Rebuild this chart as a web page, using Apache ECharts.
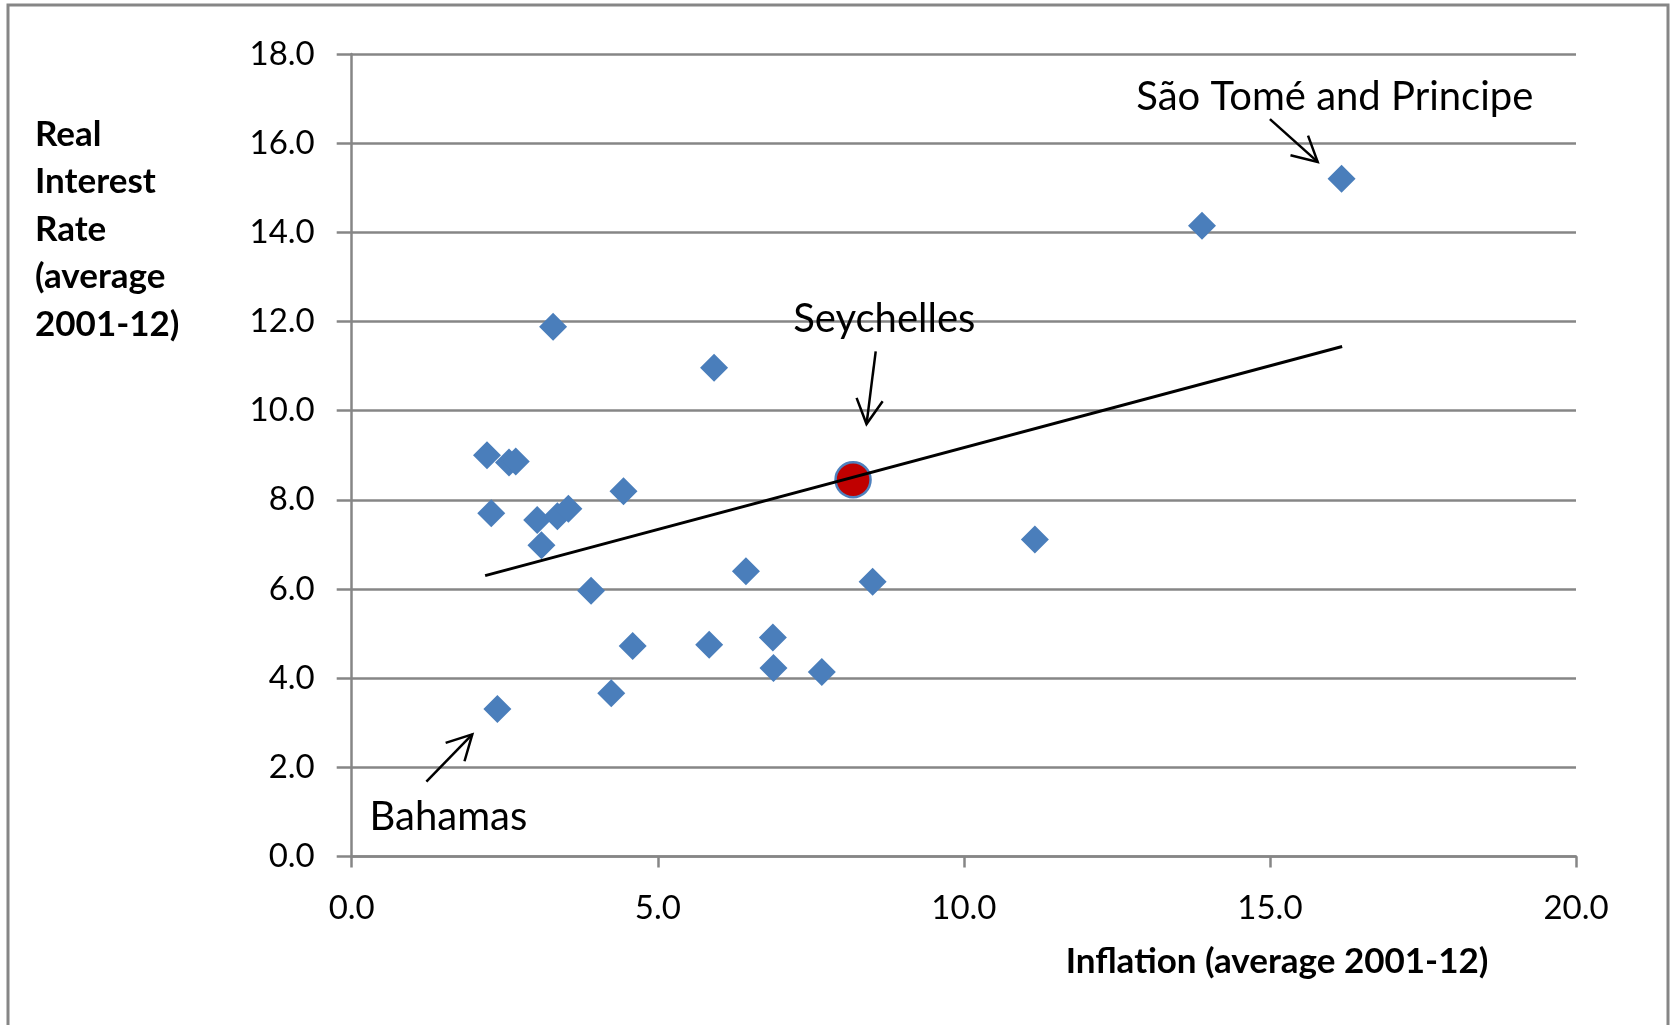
<!DOCTYPE html>
<html>
<head>
<meta charset="utf-8">
<script src="https://cdn.jsdelivr.net/npm/echarts@6/dist/echarts.min.js"></script>
<style>
  html, body { margin: 0; padding: 0; background: #ffffff; }
  #chart { width: 1670px; height: 1025px; }
</style>
</head>
<body>
<div id="chart"></div>
<script>
// Average inflation vs. average real interest rate, 2001-12
const inflation = [2.21, 2.57, 2.68, 4.44, 2.28, 3.03, 3.36, 3.54, 3.10, 6.44, 8.51, 3.91,
                   4.59, 5.84, 6.88, 6.89, 7.68, 4.24, 2.38, 3.29, 5.92, 13.89, 16.17, 11.16];
const realRate  = [9.00, 8.84, 8.86, 8.19, 7.70, 7.55, 7.63, 7.80, 6.98, 6.40, 6.16, 5.96,
                   4.72, 4.75, 4.91, 4.23, 4.14, 3.66, 3.31, 11.88, 10.96, 14.15, 15.20, 7.11];

// Highlighted country
const seychelles = [8.19, 8.45];

// Linear trend end points
const trendInflation = [2.18, 16.18];
const trendRate = [6.30, 11.44];

// Axis ranges
const xRange = [0, 20, 5];
const yRange = [0, 18, 2];

// Country call-outs (data units)
const noteLabels = ['São Tomé and Principe', 'Seychelles', 'Bahamas'];
const noteTextAt = [[16.06, 17.04], [8.70, 12.05], [1.58, 0.89]];
const noteArrowFrom = [[15.00, 16.54], [8.56, 11.33], [1.22, 1.68]];
const noteArrowTo = [[15.78, 15.58], [8.41, 9.70], [1.97, 2.74]];

const FONT = 'Lato, "Open Sans", sans-serif';
const GRID_GRAY = '#868686';

const chart = echarts.init(document.getElementById('chart'), null, { renderer: 'canvas' });

const points = inflation.map((x, i) => [x, realRate[i]]);
const trend = trendInflation.map((x, i) => [x, trendRate[i]]);

chart.setOption({
  animation: false,
  backgroundColor: '#ffffff',
  grid: { left: 351.7, right: 94, top: 54, bottom: 168.5, containLabel: false },
  xAxis: {
    type: 'value',
    min: xRange[0], max: xRange[1], interval: xRange[2],
    axisLine: { show: true, lineStyle: { color: GRID_GRAY, width: 2.5 } },
    axisTick: { show: true, length: 11, lineStyle: { color: GRID_GRAY, width: 2.5 } },
    splitLine: { show: false },
    axisLabel: {
      show: true, margin: 35, color: '#000', fontFamily: FONT, fontSize: 33,
      showMinLabel: true, showMaxLabel: true, hideOverlap: false,
      formatter: v => v.toFixed(1)
    }
  },
  yAxis: {
    type: 'value',
    min: yRange[0], max: yRange[1], interval: yRange[2],
    axisLine: { show: true, lineStyle: { color: GRID_GRAY, width: 2.5 } },
    axisTick: { show: true, length: 15, lineStyle: { color: GRID_GRAY, width: 2.5 } },
    splitLine: { show: true, lineStyle: { color: GRID_GRAY, width: 2.5 } },
    axisLabel: {
      show: true, margin: 37, color: '#000', fontFamily: FONT, fontSize: 33,
      showMinLabel: true, showMaxLabel: true, hideOverlap: false,
      formatter: v => v.toFixed(1)
    }
  },
  series: [
    {
      name: 'Countries',
      type: 'scatter',
      data: points,
      symbol: 'diamond',
      symbolSize: 28,
      itemStyle: { color: '#4A7EBB', opacity: 1 },
      emphasis: { disabled: true },
      z: 2
    },
    {
      name: 'Seychelles',
      type: 'scatter',
      data: [seychelles],
      symbol: 'circle',
      symbolSize: 35,
      itemStyle: { color: '#C00000', borderColor: '#4F81BD', borderWidth: 2.5, opacity: 1 },
      emphasis: { disabled: true },
      z: 3
    },
    {
      name: 'Trend',
      type: 'line',
      data: trend,
      showSymbol: false,
      symbol: 'none',
      lineStyle: { color: '#000000', width: 3 },
      emphasis: { disabled: true },
      z: 4
    }
  ]
});

// Axis titles, frame and call-outs
function arrowElements(from, to) {
  const a = chart.convertToPixel({ gridIndex: 0 }, from);
  const b = chart.convertToPixel({ gridIndex: 0 }, to);
  const ang = Math.atan2(a[1] - b[1], a[0] - b[0]);
  const len = 28, spread = 28 * Math.PI / 180;
  const w1 = [b[0] + len * Math.cos(ang + spread), b[1] + len * Math.sin(ang + spread)];
  const w2 = [b[0] + len * Math.cos(ang - spread), b[1] + len * Math.sin(ang - spread)];
  const style = { stroke: '#000', lineWidth: 2.5, fill: null };
  return [
    { type: 'polyline', shape: { points: [a, b] }, style: style, z: 10 },
    { type: 'polyline', shape: { points: [w1, b, w2] }, style: style, z: 10 }
  ];
}

const graphics = [
  {
    type: 'rect',
    shape: { x: 8, y: 5, width: 1660, height: 1040 },
    style: { fill: null, stroke: GRID_GRAY, lineWidth: 3 },
    silent: true, z: 0
  },
  {
    type: 'text',
    x: 35, y: 111,
    style: {
      text: 'Real\nInterest\nRate\n(average\n2001-12)',
      font: 'bold 35px ' + FONT, fill: '#000',
      lineHeight: 47.4, align: 'left', verticalAlign: 'top'
    },
    z: 10
  },
  {
    type: 'text',
    x: 1277, y: 962,
    style: {
      text: 'Inflation (average 2001-12)',
      font: 'bold 35px ' + FONT, fill: '#000',
      align: 'center', verticalAlign: 'middle'
    },
    z: 10
  }
];

noteLabels.forEach((label, i) => {
  const p = chart.convertToPixel({ gridIndex: 0 }, noteTextAt[i]);
  graphics.push({
    type: 'text',
    x: p[0], y: p[1],
    style: {
      text: label, font: '40px ' + FONT, fill: '#000',
      align: 'center', verticalAlign: 'middle'
    },
    z: 10
  });
  arrowElements(noteArrowFrom[i], noteArrowTo[i]).forEach(g => graphics.push(g));
});

chart.setOption({ graphic: graphics });
</script>
</body>
</html>
